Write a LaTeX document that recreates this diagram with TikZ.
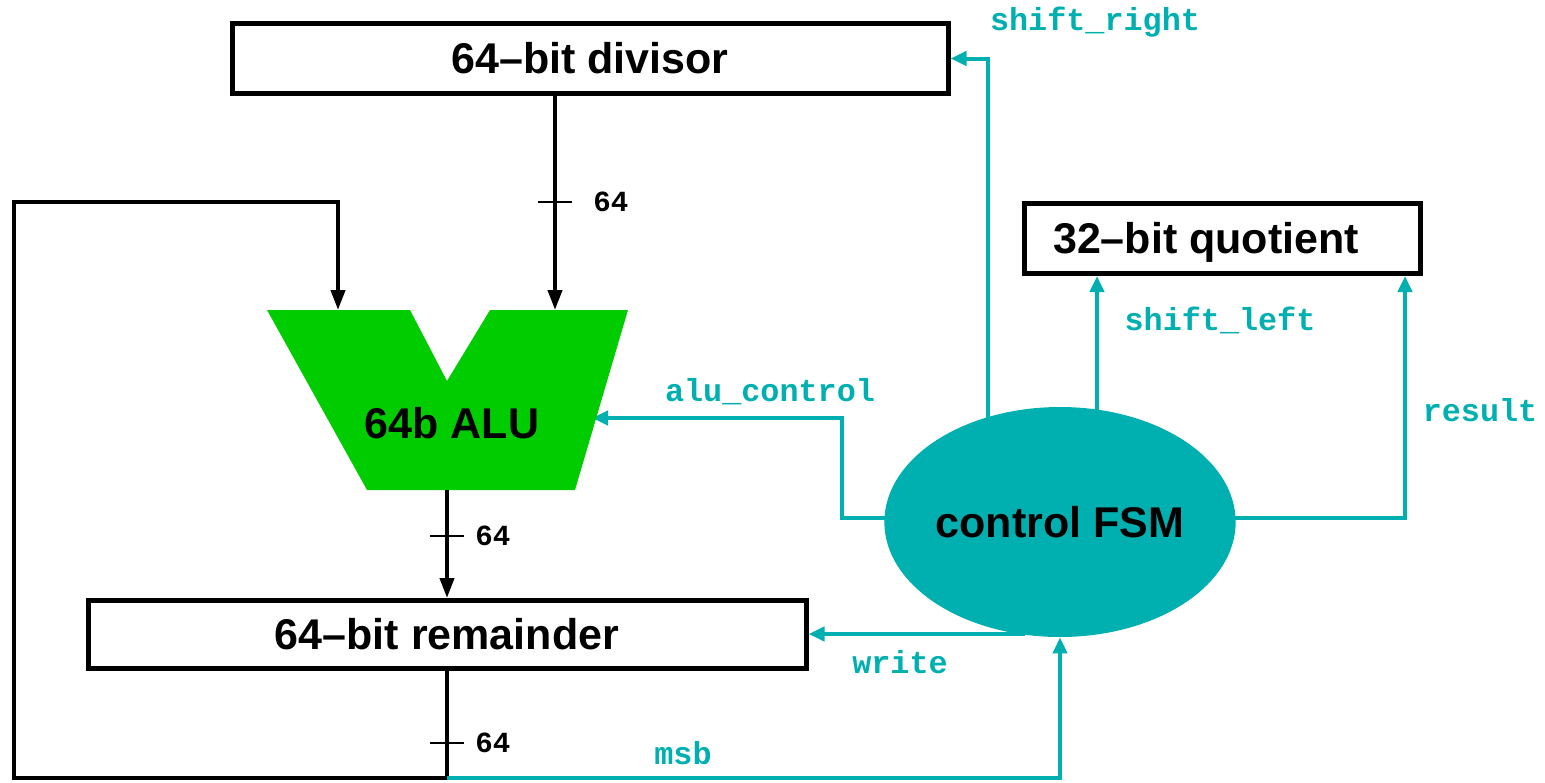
\documentclass[tikz,border=0pt]{standalone}
\usepackage{fontspec}
\setmainfont{Liberation Sans}
\newfontfamily\monof{Liberation Mono}
\usetikzlibrary{arrows.meta,shapes.geometric}
\definecolor{fsmteal}{RGB}{0,176,176}
\definecolor{alugreen}{RGB}{0,204,0}
\pgfdeclarelayer{bg}
\pgfsetlayers{bg,main}
\tikzset{
  regbox/.style={draw=black, line width=2.5pt, fill=white, inner sep=0pt, minimum height=35pt},
  bigtxt/.style={font=\fontsize{21.5}{24}\selectfont\bfseries},
  bus/.style={draw=black, line width=2pt},
  busarrow/.style={bus, -{Triangle[length=10pt,width=7pt]}},
  ctl/.style={draw=fsmteal, line width=2pt},
  ctlarrow/.style={ctl, -{Triangle[length=8pt,width=7pt]}},
  ctllbl/.style={font=\monof\fontsize{15.9}{18}\selectfont\bfseries, text=fsmteal, inner sep=0pt},
  widthlbl/.style={font=\monof\fontsize{14.6}{17}\selectfont\bfseries, text=black, inner sep=0pt, anchor=west},
  tickmark/.style={draw=black, line width=0.8pt}
}
\begin{document}
\begin{tikzpicture}[x=0.5pt,y=-0.5pt]
\useasboundingbox (0,0) rectangle (1545,782);

% registers
\node[regbox, minimum width=358pt, bigtxt] (div) at (590,58.5) {64--bit divisor};
\node[regbox, minimum width=359pt, minimum height=34pt, bigtxt] (rem) at (447,634.5) {64--bit remainder};
\node[regbox, minimum width=198pt] (quot) at (1222,238.5) {};
\node[bigtxt, inner sep=0pt] (quottxt) at (1206,242) {32--bit quotient};

% ALU
\fill[alugreen] (267,310) -- (410,310) -- (447,381) -- (490,310) -- (628,310) -- (575,490) -- (367,490) -- cycle;
\node[bigtxt, inner sep=0pt] (alu) at (452,423) {64b ALU};
\coordinate (aluinL) at (338,310);
\coordinate (aluinR) at (555,310);
\coordinate (aluout) at (447,490);
\coordinate (aluctl) at (592,418);

% FSM
\node[ellipse, fill=fsmteal, minimum width=173pt, minimum height=115pt, inner sep=0pt, bigtxt] (fsm) at (1060,522) {control FSM};

% datapath
\draw[busarrow] ([xshift=-17.5pt]div.south) -- (aluinR);
\draw[tickmark] (538,202) -- (572,202);
\node[widthlbl] (w1) at (593,202) {64};

\draw[busarrow] (aluout) -- (rem.north);
\draw[tickmark] (430,536) -- (464,536);
\node[widthlbl] (w2) at (475,536) {64};

\coordinate (corner) at (447,778);
\coordinate (bl) at (14,778);
\coordinate (tl) at (14,202);
\coordinate (tr) at (338,202);
\draw[busarrow] (rem.south) -- (corner) -- (bl) -- (tl) -- (tr) -- (aluinL);
\draw[tickmark] (430,743) -- (464,743);
\node[widthlbl] (w3) at (475,743) {64};

% control signals
\begin{pgfonlayer}{bg}
\draw[ctlarrow] ([xshift=-36pt]fsm.center) |- (div.east);
\draw[ctlarrow] ([xshift=18.5pt]fsm.center) -- ([xshift=18.5pt]fsm.center |- quot.south);
\draw[ctlarrow] ([yshift=2pt]fsm.center) -- ([yshift=2pt]fsm.east) -| ([xshift=91.5pt]quot.south);
\draw[ctlarrow] ([yshift=2pt]fsm.center) -- ([xshift=-21pt,yshift=2pt]fsm.west) |- (aluctl);
\coordinate (wr) at (1023,634);
\draw[ctlarrow] ([yshift=10pt]wr) -- (wr) -- (wr -| rem.east);
\end{pgfonlayer}
\draw[ctlarrow] (corner) -| (fsm.south);

\node[ctllbl] (lsr) at (1095,22) {shift\_right};
\node[ctllbl] (lsl) at (1220,320) {shift\_left};
\node[ctllbl] (lac) at (770,392) {alu\_control};
\node[ctllbl] (lres) at (1480,410) {result};
\node[ctllbl] (lwr) at (900,662) {write};
\node[ctllbl] (lmsb) at (683,753) {msb};
\end{tikzpicture}
\end{document}
